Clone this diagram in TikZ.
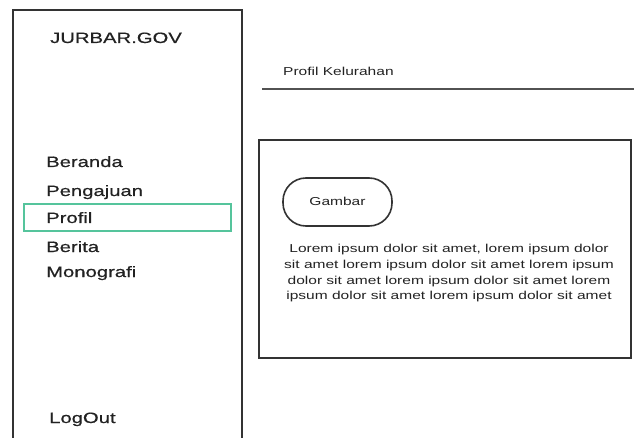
\documentclass[tikz,border=0pt]{standalone}
\usepackage{fontspec}
\setmainfont{Liberation Sans}[FakeStretch=1.35]
\newfontfamily\menufont{Liberation Sans}[FakeStretch=1.35,FakeBold=0.6]
\definecolor{ink}{HTML}{222222}
\definecolor{edge}{HTML}{333333}
\definecolor{sel}{HTML}{55C49C}
\begin{document}
\begin{tikzpicture}[x=1pt,y=-1pt,
  frame/.style={draw=edge,line width=2pt},
  menu/.style={anchor=base west,inner sep=0pt,text=ink,font=\menufont\fontsize{15}{18}\selectfont},
  small/.style={anchor=base,inner sep=0pt,text=ink,font=\fontsize{11.5}{16}\selectfont}]
\useasboundingbox (0,0) rectangle (634,438);
% sidebar
\draw[frame] (12.5,445) -- (12.5,10) -- (242,10) -- (242,445);
\node[menu] (logo) at (50,43) {JURBAR.GOV};
\node[menu] (beranda) at (46,167) {Beranda};
\node[menu] (pengajuan) at (46,196) {Pengajuan};
\node[draw=sel,line width=1.5pt,minimum width=207pt,minimum height=27pt,inner sep=0pt] (selbox) at (127.5,217.5) {};
\node[menu] (profil) at (46,223) {Profil};
\node[menu] (berita) at (46,252) {Berita};
\node[menu] (mono) at (46,277) {Monografi};
\node[menu] (logout) at (49,423) {LogOut};
% header
\node[small,anchor=base west] (title) at (283,76) {Profil Kelurahan};
\coordinate (hl) at (262,89);
\coordinate (hr) at (640,89);
\draw[draw=edge!85,line width=2.2pt] (hl) -- (hr);
% content
\node[frame,line width=1.6pt,minimum width=372pt,minimum height=218pt,inner sep=0pt] (content) at (445,249) {};
\node[draw=edge,line width=1.6pt,rounded corners=23pt,minimum width=109pt,minimum height=48pt,inner sep=0pt] (img) at (337.5,202) {};
\node[small] (gambar) at (337.5,206) {Gambar};
\node[small] (l1) at (449,253) {Lorem ipsum dolor sit amet, lorem ipsum dolor};
\node[small] (l2) at (449,268.5) {sit amet lorem ipsum dolor sit amet lorem ipsum};
\node[small] (l3) at (449,284) {dolor sit amet lorem ipsum dolor sit amet lorem};
\node[small] (l4) at (449,299.5) {ipsum dolor sit amet lorem ipsum dolor sit amet};
\end{tikzpicture}
\end{document}
